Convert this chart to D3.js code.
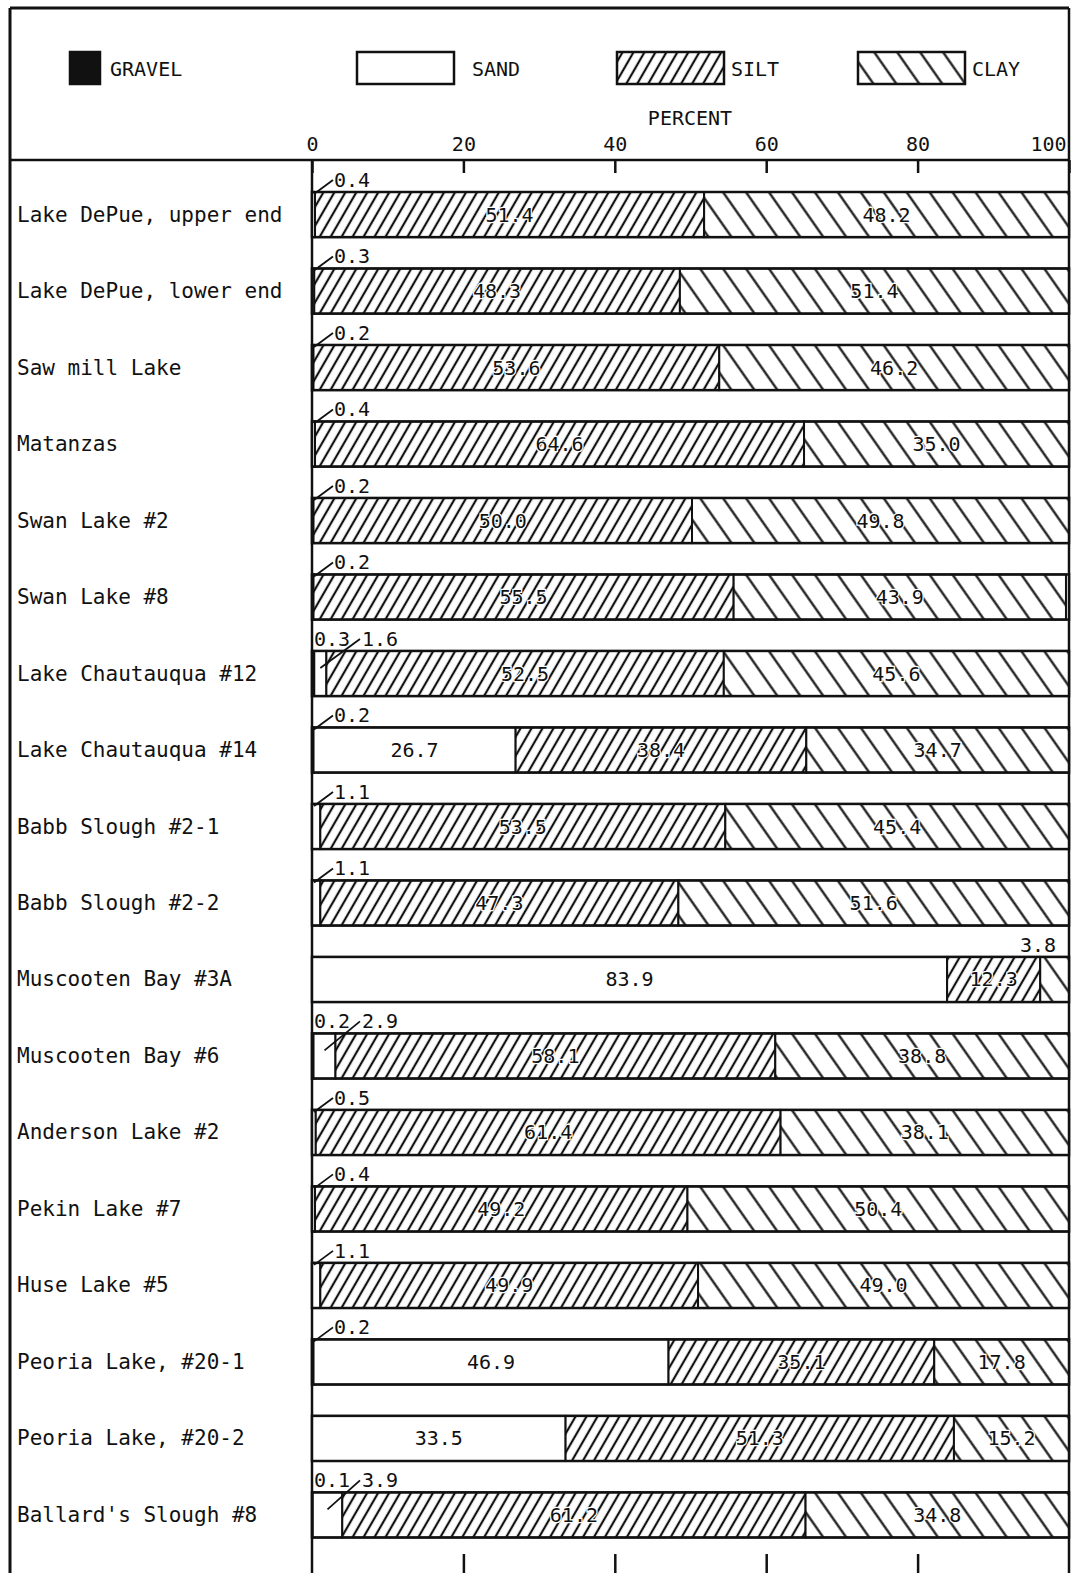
<!DOCTYPE html>
<html>
<head>
<meta charset="utf-8">
<script src="https://cdn.jsdelivr.net/npm/d3@7"></script>
<style>
  html, body { margin: 0; padding: 0; background: #fff; }
  svg { display: block; }
  text { font-family: "DejaVu Sans Mono", "Liberation Mono", monospace; fill: #111; }
</style>
</head>
<body>
<svg id="chart" width="1078" height="1573"></svg>
<script>
// Particle-size composition of bottom sediments, percent by weight
const sites = [
  "Lake DePue, upper end", "Lake DePue, lower end", "Saw mill Lake", "Matanzas",
  "Swan Lake #2", "Swan Lake #8", "Lake Chautauqua #12", "Lake Chautauqua #14",
  "Babb Slough #2-1", "Babb Slough #2-2", "Muscooten Bay #3A", "Muscooten Bay #6",
  "Anderson Lake #2", "Pekin Lake #7", "Huse Lake #5", "Peoria Lake, #20-1",
  "Peoria Lake, #20-2", "Ballard's Slough #8"
];
const gravel = [0, 0, 0, 0, 0, 0, 0.3, 0.2, 0, 0, 0, 0.2, 0, 0, 0, 0.2, 0, 0.1];
const sand   = [0.4, 0.3, 0.2, 0.4, 0.2, 0.2, 1.6, 26.7, 1.1, 1.1, 83.9, 2.9, 0.5, 0.4, 1.1, 46.9, 33.5, 3.9];
const silt   = [51.4, 48.3, 53.6, 64.6, 50.0, 55.5, 52.5, 38.4, 53.5, 47.3, 12.3, 58.1, 61.4, 49.2, 49.9, 35.1, 51.3, 61.2];
const clay   = [48.2, 51.4, 46.2, 35.0, 49.8, 43.9, 45.6, 34.7, 45.4, 51.6, 3.8, 38.8, 38.1, 50.4, 49.0, 17.8, 15.2, 34.8];
const classes = ["GRAVEL", "SAND", "SILT", "CLAY"];
const percentTicks = [0, 20, 40, 60, 80, 100];

const svg = d3.select("#chart");
const W = 1078, H = 1573;
const frameL = 10, frameT = 8, frameR = 1069, headerY = 160;

const x = d3.scaleLinear().domain([0, 100]).range([312, 1069]);
const y = d3.scaleBand().domain(sites).range([192, 1537.5]).paddingInner(0.41).paddingOuter(0).align(0);

// hatch patterns
const defs = svg.append("defs");
function hatch(id, width, angle) {
  const p = defs.append("pattern")
    .attr("id", id).attr("patternUnits", "userSpaceOnUse")
    .attr("width", width).attr("height", 40)
    .attr("patternTransform", `rotate(${angle})`);
  p.append("rect").attr("width", width).attr("height", 40).attr("fill", "#fff");
  p.append("line").attr("x1", width / 2).attr("x2", width / 2).attr("y1", 0).attr("y2", 40)
    .attr("stroke", "#111").attr("stroke-width", 2.2);
}
hatch("siltHatch", 9.5, 30);
hatch("clayHatch", 18.8, -35);
const fills = { GRAVEL: "#111", SAND: "#fff", SILT: "url(#siltHatch)", CLAY: "url(#clayHatch)" };

// frame
const frame = svg.append("g").attr("stroke", "#111").attr("fill", "none");
frame.append("line").attr("x1", frameL).attr("x2", frameL).attr("y1", frameT).attr("y2", H).attr("stroke-width", 3);
frame.append("line").attr("x1", frameL).attr("x2", frameR).attr("y1", frameT).attr("y2", frameT).attr("stroke-width", 3);
frame.append("line").attr("x1", frameR).attr("x2", frameR).attr("y1", frameT).attr("y2", H).attr("stroke-width", 2.5);
frame.append("line").attr("x1", frameL).attr("x2", frameR).attr("y1", headerY).attr("y2", headerY).attr("stroke-width", 2.5);
frame.append("line").attr("x1", x(0)).attr("x2", x(0)).attr("y1", headerY).attr("y2", H).attr("stroke-width", 2.5);

// legend
const legendItems = [
  { key: "GRAVEL", x0: 70, w: 30, tx: 110 },
  { key: "SAND", x0: 357, w: 97, tx: 472 },
  { key: "SILT", x0: 617, w: 107, tx: 731 },
  { key: "CLAY", x0: 858, w: 107, tx: 972 }
];
const lg = svg.append("g");
lg.selectAll("rect").data(legendItems).join("rect")
  .attr("x", d => d.x0).attr("y", 52).attr("width", d => d.w).attr("height", 32)
  .attr("fill", d => fills[d.key]).attr("stroke", "#111").attr("stroke-width", 2.5);
lg.selectAll("text").data(legendItems).join("text")
  .attr("x", d => d.tx).attr("y", 76).attr("font-size", 20).text(d => d.key);

svg.append("text").attr("x", 690).attr("y", 125).attr("text-anchor", "middle")
  .attr("font-size", 20).text("PERCENT");

// top axis: labels above the header line, short ticks hanging into the plot
const topAxis = svg.append("g").attr("transform", `translate(0,${headerY})`)
  .call(d3.axisTop(x).tickValues(percentTicks).tickSizeInner(-13).tickSizeOuter(0).tickPadding(9));
topAxis.select(".domain").remove();
topAxis.selectAll(".tick line").attr("stroke", "#111").attr("stroke-width", 2.5);
topAxis.selectAll(".tick text").attr("font-size", 20)
  .attr("font-family", "DejaVu Sans Mono, monospace").attr("fill", "#111");
topAxis.selectAll(".tick").filter(d => d === 100).select("text")
  .attr("text-anchor", "end").attr("x", -3);
topAxis.selectAll(".tick").filter(d => d === 0).select("text").attr("x", 0);

// bottom axis ticks
const botAxis = svg.append("g").attr("transform", `translate(0,${H})`)
  .call(d3.axisBottom(x).tickValues([20, 40, 60, 80]).tickSizeInner(-19).tickSizeOuter(0).tickFormat(""));
botAxis.select(".domain").remove();
botAxis.selectAll(".tick line").attr("stroke", "#111").attr("stroke-width", 2.5);

// stacked segments per site
const rows = sites.map((name, i) => {
  const vals = [gravel[i], sand[i], silt[i], clay[i]];
  let acc = 0;
  const segs = vals.map((v, k) => {
    const s = { site: name, key: classes[k], value: v, x0: acc, x1: acc + v };
    acc += v;
    return s;
  });
  return { name, segs };
});

const rowG = svg.append("g").selectAll("g").data(rows).join("g")
  .attr("transform", d => `translate(0,${y(d.name)})`);
const bh = y.bandwidth();

// bar outline spanning the full percent range
rowG.append("rect").attr("x", x(0)).attr("y", 0).attr("width", x(100) - x(0)).attr("height", bh)
  .attr("fill", "#fff");
rowG.selectAll("rect.seg").data(d => d.segs.filter(s => s.value > 0)).join("rect")
  .attr("class", "seg")
  .attr("x", s => x(s.x0)).attr("y", 0)
  .attr("width", s => x(s.x1) - x(s.x0)).attr("height", bh)
  .attr("fill", s => fills[s.key])
  .attr("stroke", "#111").attr("stroke-width", 2);
rowG.append("rect").attr("x", x(0)).attr("y", 0).attr("width", x(100) - x(0)).attr("height", bh)
  .attr("fill", "none").attr("stroke", "#111").attr("stroke-width", 2.5);

// value labels inside the larger segments
rowG.selectAll("text.val").data(d => d.segs.filter(s => s.value >= 5)).join("text")
  .attr("class", "val")
  .attr("x", s => (x(s.x0) + x(s.x1)) / 2).attr("y", bh / 2 + 7)
  .attr("text-anchor", "middle").attr("font-size", 20)
  .attr("stroke", "#fff").attr("stroke-width", 2.5).attr("paint-order", "stroke")
  .text(s => s.value.toFixed(1));

// small fractions: labelled in the strip above the bar
rowG.each(function (d) {
  const g = d3.select(this);
  const small = d.segs.filter(s => s.value > 0 && s.value < 5);
  const left = small.filter(s => s.key === "GRAVEL" || s.key === "SAND");
  const right = small.filter(s => s.key === "CLAY");
  const base = -5;
  if (left.length === 2) {
    g.append("text").attr("x", x(0) + 2).attr("y", base).attr("font-size", 20)
      .text(left[0].value.toFixed(1));
    const s = left[1];
    const sx = (x(s.x0) + x(s.x1)) / 2;
    g.append("line").attr("x1", sx).attr("y1", 17).attr("x2", x(0) + 48).attr("y2", -12)
      .attr("stroke", "#111").attr("stroke-width", 1.8);
    g.append("text").attr("x", x(0) + 50).attr("y", base).attr("font-size", 20)
      .text(s.value.toFixed(1));
  } else if (left.length === 1) {
    const s = left[0];
    g.append("line").attr("x1", x(s.x0) + 2).attr("y1", 2).attr("x2", x(0) + 21).attr("y2", -12)
      .attr("stroke", "#111").attr("stroke-width", 1.8);
    g.append("text").attr("x", x(0) + 22).attr("y", base).attr("font-size", 20)
      .text(s.value.toFixed(1));
  }
  right.forEach(s => {
    g.append("text").attr("x", x(100) - 13).attr("y", base).attr("text-anchor", "end")
      .attr("font-size", 20).text(s.value.toFixed(1));
  });
});

// site names
svg.append("g").selectAll("text").data(sites).join("text")
  .attr("x", 17).attr("y", d => y(d) + bh / 2 + 7)
  .attr("font-size", 21).text(d => d);
</script>
</body>
</html>
